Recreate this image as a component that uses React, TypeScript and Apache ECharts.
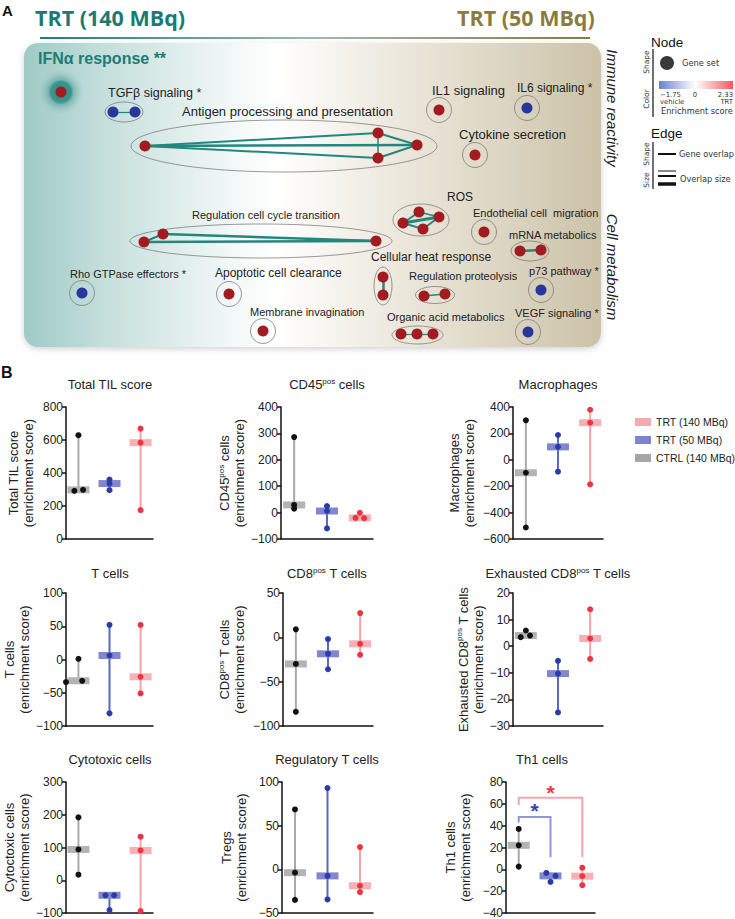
import React, { useEffect, useRef } from 'react';
import * as echarts from 'echarts';

const FONT = 'Liberation Sans, Arial, sans-serif';

// ---------- Panel B data ----------
const GROUPS = ['CTRL (140 MBq)', 'TRT (50 MBq)', 'TRT (140 MBq)'];
const LEGEND_ORDER = ['TRT (140 MBq)', 'TRT (50 MBq)', 'CTRL (140 MBq)'];

// each: [CTRL, TRT 50, TRT 140], three animals per group
const TOTAL_TIL = [[629, 298, 292], [360, 336, 296], [669, 584, 175]];
const CD45 = [[286, 29, 15], [25, 6, -60], [-1, -20, -21]];
const MACROPHAGES = [[299, -98, -513], [188, 98, -90], [379, 281, -186]];
const T_CELLS = [[1, -34, -32], [52, 6, -81], [52, -26, -51]];
const CD8_T = [[9, -30, -84], [-2, -18.6, -36], [27.4, -7.3, -19.7]];
const EXHAUSTED = [[5.9, 4.0, 3.4], [-5.5, -10.3, -24.9], [13.9, 2.9, -4.8]];
const CYTOTOXIC = [[192, 94, 17], [-46, -46, -91], [133, 91, -94]];
const TREGS = [[68.6, -3.8, -35], [93, -7.5, -34.5], [25.5, -18.8, -26]];
const TH1 = [[37, 22, 2.5], [-3.3, -6, -11.5], [1.5, -6.3, -14.5]];

// horizontal jitter of the dots (category units)
const J0 = [[0, 0, 0], [0, 0, 0], [0, 0, 0]];
const JIT_TOTAL_TIL = [[0, 0.15, -0.13], [0, 0, 0], [0, 0, 0]];
const JIT_CD45 = [[0, 0, 0], [0, 0, 0], [0, -0.13, 0.13]];
const JIT_T_CELLS = [[0, -0.4, 0.12], [0, 0, 0], [0, 0, 0]];
const JIT_EXHAUSTED = [[0, 0.13, -0.16], [0, 0, 0], [0, 0, 0]];
const JIT_CYTOTOXIC = [[0, 0, 0], [-0.13, 0.15, 0], [0, 0, 0]];
const JIT_TH1 = [[0, 0, 0], [-0.13, 0.16, 0], [0, 0, 0]];

// significance brackets in Th1 panel: [fromGroup, toGroup, top, leftEnd, rightEnd, starY]
const TH1_BRACKETS = [[1, 2, 48, 43, 11, 58], [1, 3, 65.5, 59, 11, 74]];
const BRACKET_COLORS = [{ line: '#8f97d8', star: '#3343b0' }, { line: '#f5a5ac', star: '#ee3442' }];

const PANELS = [
  { title: 'Total TIL score', yName: 'Total TIL score\n(enrichment score)', data: TOTAL_TIL, jit: JIT_TOTAL_TIL, min: 0, max: 800, step: 200 },
  { title: 'CD45{sup|pos} cells', yName: 'CD45{sup|pos} cells\n(enrichment score)', data: CD45, jit: JIT_CD45, min: -100, max: 400, step: 100 },
  { title: 'Macrophages', yName: 'Macrophages\n(enrichment score)', data: MACROPHAGES, jit: J0, min: -600, max: 400, step: 200 },
  { title: 'T cells', yName: 'T cells\n(enrichment score)', data: T_CELLS, jit: JIT_T_CELLS, min: -100, max: 100, step: 50 },
  { title: 'CD8{sup|pos} T cells', yName: 'CD8{sup|pos} T cells\n(enrichment score)', data: CD8_T, jit: J0, min: -100, max: 50, step: 50 },
  { title: 'Exhausted CD8{sup|pos} T cells', yName: 'Exhausted CD8{sup|pos} T cells\n(enrichment score)', data: EXHAUSTED, jit: JIT_EXHAUSTED, min: -30, max: 20, step: 10 },
  { title: 'Cytotoxic cells', yName: 'Cytoctoxic cells\n(enrichment score)', data: CYTOTOXIC, jit: JIT_CYTOTOXIC, min: -100, max: 300, step: 100 },
  { title: 'Regulatory T cells', yName: 'Tregs\n(enrichment score)', data: TREGS, jit: J0, min: -50, max: 100, step: 50 },
  { title: 'Th1 cells', yName: 'Th1 cells\n(enrichment score)', data: TH1, jit: JIT_TH1, min: -40, max: 80, step: 20 },
];

const BOXES = [
  { left: 66, top: 407, width: 87, height: 132, gap: 30, tx: 110, ty: 384 },
  { left: 281, top: 407, width: 92, height: 132, gap: 32, tx: 327, ty: 384 },
  { left: 513, top: 407, width: 90, height: 132, gap: 36, tx: 558, ty: 384 },
  { left: 66, top: 593, width: 87, height: 133, gap: 33, tx: 110, ty: 573 },
  { left: 283, top: 593, width: 90, height: 133, gap: 36, tx: 327, ty: 573 },
  { left: 513, top: 593, width: 90, height: 133, gap: 25, tx: 558, ty: 573 },
  { left: 66, top: 782, width: 87, height: 132, gap: 34, tx: 110, ty: 759 },
  { left: 282, top: 782, width: 91, height: 132, gap: 33, tx: 327, ty: 759 },
  { left: 506, top: 782, width: 89, height: 132, gap: 33, tx: 542, ty: 759 },
];

const COLORS = [
  { line: '#a9a9a9', bar: '#b3b3b3', pt: '#111111', legend: '#a6a6a6' },
  { line: '#5a67c3', bar: '#8087cf', pt: '#2c3ca6', legend: '#7c84cc' },
  { line: '#f4a3aa', bar: '#f7b0b6', pt: '#ee3442', legend: '#f6aab0' },
];

// ---------- Panel A network ----------
// [id, x, y, direction] up = enriched in TRT (red), down = vehicle (blue)
const NODES: [string, number, number, string][] = [
  ['IFNa', 61, 92, 'up'],
  ['TGFb1', 113, 112, 'down'], ['TGFb2', 135, 112, 'down'],
  ['AG0', 145, 146, 'up'], ['AG1', 378, 133, 'up'], ['AG2', 378, 158, 'up'], ['AG3', 417, 145, 'up'],
  ['IL1', 439, 110, 'up'], ['IL6', 527, 108, 'down'], ['CYT', 475, 155, 'up'],
  ['RC0', 144, 242, 'up'], ['RC1', 163, 234, 'up'], ['RC2', 376, 241, 'up'],
  ['ROS0', 403, 223, 'up'], ['ROS1', 419, 212, 'up'], ['ROS2', 439, 217, 'up'], ['ROS3', 423, 229, 'up'],
  ['ENDO', 484, 232, 'up'],
  ['MR0', 520, 251, 'up'], ['MR1', 541, 250, 'up'],
  ['HEAT0', 383, 277, 'up'], ['HEAT1', 383, 295, 'up'],
  ['PROT0', 424, 296, 'up'], ['PROT1', 445, 294, 'up'],
  ['P73', 541, 290, 'down'],
  ['RHO', 82, 293, 'down'], ['APO', 229, 294, 'up'], ['MEM', 263, 331, 'up'],
  ['ORG0', 401, 334, 'up'], ['ORG1', 417, 334, 'up'], ['ORG2', 433, 334, 'up'],
  ['VEGF', 528, 332, 'down'],
];
const LINKS: [string, string, number][] = [
  ['TGFb1', 'TGFb2', 1.2],
  ['AG0', 'AG1', 2], ['AG0', 'AG2', 2], ['AG0', 'AG3', 2.5], ['AG1', 'AG2', 1.5], ['AG1', 'AG3', 2], ['AG2', 'AG3', 2],
  ['RC0', 'RC1', 2], ['RC1', 'RC2', 2.5], ['RC0', 'RC2', 2.5],
  ['ROS0', 'ROS1', 2], ['ROS0', 'ROS2', 3], ['ROS0', 'ROS3', 2], ['ROS1', 'ROS2', 1.5], ['ROS2', 'ROS3', 2],
  ['MR0', 'MR1', 2.5], ['HEAT0', 'HEAT1', 2.5], ['PROT0', 'PROT1', 1.5],
  ['ORG0', 'ORG1', 1.2], ['ORG1', 'ORG2', 1.2],
];
const GROUP_LABELS: [string, number, number, number][] = [
  ['TGFβ signaling *', 108, 93, 12.5],
  ['Antigen processing and presentation', 182, 111, 13],
  ['IL1 signaling', 432, 90, 13],
  ['IL6 signaling *', 517, 88, 12],
  ['Cytokine secretion', 459, 134, 13],
  ['Regulation cell cycle transition', 192, 215, 11],
  ['ROS', 447, 197, 12],
  ['Endothelial cell  migration', 473, 213, 11],
  ['mRNA metabolics', 509, 235, 11],
  ['Cellular heat response', 371, 257, 12],
  ['Regulation proteolysis', 409, 276, 11],
  ['p73 pathway *', 529, 271, 11],
  ['Rho GTPase effectors *', 70, 274, 11],
  ['Apoptotic cell clearance', 215, 273, 12],
  ['Membrane invagination', 250, 312, 11],
  ['Organic acid metabolics', 387, 317, 11],
  ['VEGF signaling *', 515, 313, 11],
];
const ELLIPSES = [
  [124, 112, 19, 10], [284, 146, 153, 26], [261, 241, 131, 17], [421, 220, 28, 16],
  [530, 251, 19, 10], [383, 286, 9, 19], [435, 295, 19.5, 8.5], [417.5, 335, 25.5, 9],
];
const RINGS = [[439, 110], [527, 108], [475, 155], [484, 232], [541, 290], [528, 332], [82, 293], [229, 294], [263, 331]];

const median = (a: number[]) => [...a].sort((x, y) => x - y)[1];
const fmt = (v: number) => String(v).replace('-', '\u2212');

function txt(text: string, x: number, y: number, size: number, extra: any = {}, elExtra: any = {}) {
  return {
    type: 'text', x, y, silent: true, ...elExtra,
    style: { text, fontSize: size, fontFamily: FONT, fill: '#222', align: 'left', verticalAlign: 'middle', ...extra },
  };
}

function buildOption() {
  const grid: any[] = BOXES.map((b) => ({ left: b.left, top: b.top, width: b.width, height: b.height }));
  grid.push({ left: 0, top: 0, width: 735, height: 919 });
  const xAxis: any[] = BOXES.map((_, i) => ({
    gridIndex: i, type: 'value', min: 0.6, max: 3.4,
    axisLine: { show: true, onZero: false, lineStyle: { color: '#111', width: 1.5 } },
    axisTick: { show: false }, axisLabel: { show: false }, splitLine: { show: false },
  }));
  xAxis.push({ gridIndex: 9, type: 'value', min: 0, max: 735, show: false });
  const yAxis: any[] = PANELS.map((p, i) => ({
    gridIndex: i, type: 'value', min: p.min, max: p.max, interval: p.step,
    name: p.yName, nameLocation: 'middle', nameGap: BOXES[i].gap, nameRotate: 90,
    nameTextStyle: {
      fontSize: 13, color: '#222', fontFamily: FONT, lineHeight: 15, align: 'center',
      rich: { sup: { fontSize: 8, verticalAlign: 'top', lineHeight: 15, fontFamily: FONT, color: '#222' } },
    },
    axisLine: { show: true, onZero: false, lineStyle: { color: '#111', width: 1.5 } },
    axisTick: { show: true, length: 4, lineStyle: { color: '#111', width: 1.5 } },
    axisLabel: { fontSize: 12, color: '#222', fontFamily: FONT, margin: 3, formatter: fmt },
    splitLine: { show: false },
  }));
  yAxis.push({ gridIndex: 9, type: 'value', min: 0, max: 919, inverse: true, show: false });

  const series: any[] = [];
  PANELS.forEach((p, i) => {
    p.data.forEach((vals, g) => {
      const c = COLORS[g];
      series.push({
        type: 'custom', name: GROUPS[g], xAxisIndex: i, yAxisIndex: i, z: 2, silent: true, clip: false,
        itemStyle: { color: c.legend },
        data: [[g + 1, Math.min(...vals), Math.max(...vals), median(vals)]],
        renderItem: (_: any, api: any) => {
          const x = api.value(0);
          const lo = api.coord([x, api.value(1)]);
          const hi = api.coord([x, api.value(2)]);
          const md = api.coord([x, api.value(3)]);
          return {
            type: 'group', children: [
              { type: 'line', shape: { x1: lo[0], y1: lo[1], x2: hi[0], y2: hi[1] }, style: { stroke: c.line, lineWidth: 2 } },
              { type: 'rect', shape: { x: md[0] - 11, y: md[1] - 3.5, width: 22, height: 7 }, style: { fill: c.bar } },
            ],
          };
        },
      });
      series.push({
        type: 'scatter', name: GROUPS[g], xAxisIndex: i, yAxisIndex: i, z: 3, silent: true,
        symbolSize: 6, itemStyle: { color: c.pt, opacity: 1 },
        data: vals.map((v, k) => [g + 1 + p.jit[g][k], v]),
      });
    });
  });
  // Th1 significance brackets
  series.push({
    type: 'custom', xAxisIndex: 8, yAxisIndex: 8, z: 4, silent: true, clip: false,
    data: TH1_BRACKETS,
    renderItem: (params: any, api: any) => {
      const x1 = api.value(0), x2 = api.value(1), top = api.value(2);
      const c = BRACKET_COLORS[params.dataIndex];
      const pts = [api.coord([x1, api.value(3)]), api.coord([x1, top]), api.coord([x2, top]), api.coord([x2, api.value(4)])];
      const s = api.coord([(x1 + x2) / 2, api.value(5)]);
      return {
        type: 'group', children: [
          { type: 'polyline', shape: { points: pts }, style: { stroke: c.line, lineWidth: 2, fill: 'none' } },
          { type: 'text', x: s[0], y: s[1] + 4, style: { text: '*', fontSize: 21, fontWeight: 'bold', fontFamily: FONT, fill: c.star, align: 'center', verticalAlign: 'middle' } },
        ],
      };
    },
  });
  // Panel A network
  const colorOf = (d: string) => (d === 'up' ? '#a11b21' : '#28379c');
  series.push({
    type: 'graph', coordinateSystem: 'cartesian2d', xAxisIndex: 9, yAxisIndex: 9, z: 5, silent: true,
    symbol: 'circle', symbolSize: 11, label: { show: false },
    data: NODES.map(([id, x, y, d]) => ({ name: id, value: [x, y], itemStyle: { color: colorOf(d) } })),
    links: LINKS.map(([s, t, w]) => ({ source: s, target: t, lineStyle: { width: w } })),
    lineStyle: { color: '#23877e', opacity: 1, curveness: 0 },
  });

  const graphic: any[] = [];
  // background of panel A
  graphic.push({
    type: 'rect', z: -10, silent: true,
    shape: { x: 24, y: 43, width: 577, height: 304, r: 14 },
    style: {
      fill: {
        type: 'linear', x: 0, y: 0, x2: 1, y2: 0, colorStops: [
          { offset: 0, color: '#9fcac6' }, { offset: 0.14, color: '#c5dfdc' }, { offset: 0.36, color: '#f2f8f7' },
          { offset: 0.44, color: '#ffffff' }, { offset: 0.58, color: '#f2efe7' }, { offset: 0.82, color: '#ddd6c3' },
          { offset: 1, color: '#cbc2a7' },
        ],
      },
      shadowBlur: 6, shadowColor: 'rgba(0,0,0,0.18)', shadowOffsetY: 2,
    },
  });
  graphic.push({
    type: 'rect', z: -9, silent: true, shape: { x: 40, y: 37, width: 550, height: 2 },
    style: { fill: { type: 'linear', x: 0, y: 0, x2: 1, y2: 0, colorStops: [{ offset: 0, color: '#1f7f77' }, { offset: 0.5, color: '#9fb9a8' }, { offset: 1, color: '#8a7a45' }] } },
  });
  graphic.push(txt('A', 2, 10, 15, { fontWeight: 'bold', fill: '#111' }));
  graphic.push(txt('TRT (140 MBq)', 35, 17, 21.5, { fontWeight: 'bold', fontFamily: 'Open Sans', fill: '#1b7b73' }));
  graphic.push(txt('TRT (50 MBq)', 457, 17, 21.5, { fontWeight: 'bold', fontFamily: 'Open Sans', fill: '#8c7b3e' }));
  graphic.push(txt('IFNα response **', 38, 58, 16, { fontWeight: 'bold', fill: '#1e7b74' }));
  // glow around IFNa node
  graphic.push({
    type: 'circle', z: -5, silent: true, shape: { cx: 61, cy: 92, r: 23 },
    style: {
      fill: {
        type: 'radial', x: 0.5, y: 0.5, r: 0.5, colorStops: [
          { offset: 0, color: '#2b8b85' }, { offset: 0.45, color: '#3a9691' }, { offset: 0.55, color: 'rgba(90,160,156,0.6)' },
          { offset: 1, color: 'rgba(150,200,197,0)' },
        ],
      },
    },
  });
  ELLIPSES.forEach(([cx, cy, rx, ry]) => graphic.push({
    type: 'ellipse', z: -4, silent: true, shape: { cx, cy, rx, ry }, style: { fill: 'none', stroke: '#7d7d7d', lineWidth: 0.8 },
  }));
  RINGS.forEach(([cx, cy]) => graphic.push({
    type: 'circle', z: -4, silent: true, shape: { cx, cy, r: 12.5 }, style: { fill: 'none', stroke: '#7d7d7d', lineWidth: 0.8 },
  }));
  GROUP_LABELS.forEach(([t, x, y, s]) => graphic.push(txt(t, x, y, s)));
  graphic.push(txt('Immune reactivity', 612, 108, 15, { fontStyle: 'italic', align: 'center' }, { rotation: -Math.PI / 2 }));
  graphic.push(txt('Cell metabolism', 612, 267, 15, { fontStyle: 'italic', align: 'center' }, { rotation: -Math.PI / 2 }));

  // Node / edge legend
  const DJ = 'DejaVu Sans';
  graphic.push(txt('Node', 651, 42, 13.5, { fill: '#111' }));
  graphic.push({ type: 'line', silent: true, shape: { x1: 653, y1: 49, x2: 653, y2: 117 }, style: { stroke: '#111', lineWidth: 1.2 } });
  graphic.push(txt('Shape', 646, 62, 7.5, { align: 'center', fontFamily: DJ, fill: '#333' }, { rotation: Math.PI / 2 }));
  graphic.push(txt('Color', 646, 99, 7.5, { align: 'center', fontFamily: DJ, fill: '#333' }, { rotation: Math.PI / 2 }));
  graphic.push({ type: 'circle', silent: true, shape: { cx: 667, cy: 63, r: 7 }, style: { fill: '#3a3a3a' } });
  graphic.push(txt('Gene set', 682, 63, 8.3, { fontFamily: DJ, fill: '#333' }));
  graphic.push({
    type: 'rect', silent: true, shape: { x: 659, y: 81, width: 74, height: 8 },
    style: { fill: { type: 'linear', x: 0, y: 0, x2: 1, y2: 0, colorStops: [{ offset: 0, color: '#6a80d4' }, { offset: 0.49, color: '#ffffff' }, { offset: 1, color: '#f05a5f' }] } },
  });
  graphic.push(txt('\u22121.75\nvehicle', 660, 98, 6.8, { fontFamily: DJ, fill: '#333', lineHeight: 7 }));
  graphic.push(txt('0', 695, 94.5, 6.8, { fontFamily: DJ, fill: '#333', align: 'center' }));
  graphic.push(txt('2.33\nTRT', 733, 98, 6.8, { fontFamily: DJ, fill: '#333', align: 'right', lineHeight: 7 }));
  graphic.push(txt('Enrichment score', 661, 111, 8.2, { fontFamily: DJ, fill: '#333' }));
  graphic.push(txt('Edge', 651, 133, 13.5, { fill: '#111' }));
  graphic.push({ type: 'line', silent: true, shape: { x1: 653, y1: 142, x2: 653, y2: 189 }, style: { stroke: '#111', lineWidth: 1.2 } });
  graphic.push(txt('Shape', 646, 154, 7.5, { align: 'center', fontFamily: DJ, fill: '#333' }, { rotation: Math.PI / 2 }));
  graphic.push(txt('Size', 646, 180, 7.5, { align: 'center', fontFamily: DJ, fill: '#333' }, { rotation: Math.PI / 2 }));
  graphic.push({ type: 'line', silent: true, shape: { x1: 658, y1: 154, x2: 676, y2: 154 }, style: { stroke: '#111', lineWidth: 2 } });
  graphic.push(txt('Gene overlap', 679, 154, 8.2, { fontFamily: DJ, fill: '#333' }));
  [[171, 1], [176, 2], [184, 3.5]].forEach(([y, w]) => graphic.push({
    type: 'line', silent: true, shape: { x1: 658, y1: y, x2: 676, y2: y }, style: { stroke: '#111', lineWidth: w },
  }));
  graphic.push(txt('Overlap size', 680, 179, 8.2, { fontFamily: DJ, fill: '#333' }));

  // Panel B labels
  graphic.push(txt('B', 1, 372, 16, { fontWeight: 'bold', fill: '#111' }));
  PANELS.forEach((p, i) => graphic.push(txt(p.title, BOXES[i].tx, BOXES[i].ty, 13, {
    align: 'center', rich: { sup: { fontSize: 8, verticalAlign: 'top', fontFamily: FONT, fill: '#222' } },
  })));

  return {
    animation: false,
    backgroundColor: '#ffffff',
    grid, xAxis, yAxis, series, graphic,
    legend: {
      orient: 'vertical', left: 630, top: 410, itemWidth: 16, itemHeight: 8, itemGap: 4, selectedMode: false,
      textStyle: { fontSize: 10.5, color: '#222', fontFamily: FONT, lineHeight: 14 },
      data: LEGEND_ORDER.map((n) => ({ name: n, icon: 'rect', itemStyle: { color: COLORS[GROUPS.indexOf(n)].legend } })),
    },
  };
}

export default function App() {
  const ref = useRef<HTMLDivElement>(null);
  useEffect(() => {
    document.body.style.margin = '0';
    document.body.style.overflow = 'hidden';
    const chart = echarts.init(ref.current!, null, { renderer: 'svg' });
    chart.setOption(buildOption() as any);
    return () => chart.dispose();
  }, []);
  return <div ref={ref} style={{ width: 735, height: 919 }} />;
}
